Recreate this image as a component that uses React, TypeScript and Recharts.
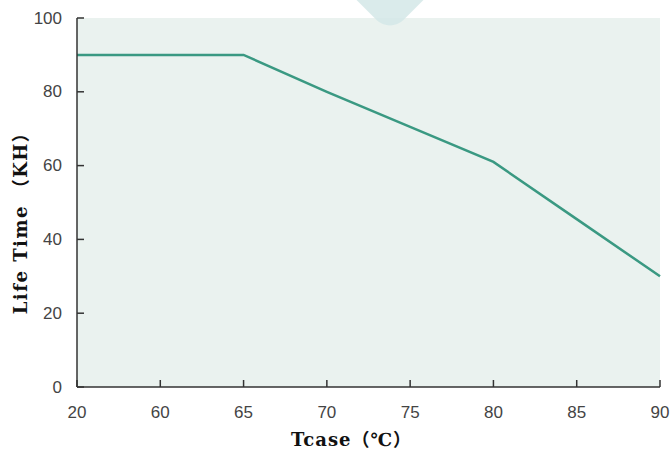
import { CartesianGrid, Line, LineChart, XAxis, YAxis } from "recharts";

// Tcase (°C) categories and life time (KH)
const tcase = ["20", "60", "65", "70", "75", "80", "85", "90"];
const lifeTime = [90, 90, 90, 80, 70.5, 61, 45.5, 30];
const yTicks = [0, 20, 40, 60, 80, 100];

const data = tcase.map((t, i) => ({ t, life: lifeTime[i] }));

const AXIS = "#333333";
const TICK_TEXT = "#444444";
const LINE = "#3a9982";
const TICK_FONT = "'Liberation Sans', Arial, sans-serif";
const LABEL_FONT = "'DejaVu Serif', 'Noto Sans CJK SC', serif";

function YTick({ x, y, payload }: any) {
  return (
    <g>
      <line x1={x} x2={x + 7} y1={y} y2={y} stroke={AXIS} strokeWidth={1.5} />
      <text
        x={x - 15}
        y={y}
        textAnchor="end"
        dominantBaseline="central"
        fontFamily={TICK_FONT}
        fontSize={17}
        fill={TICK_TEXT}
      >
        {payload.value}
      </text>
    </g>
  );
}

function XTick({ x, y, payload }: any) {
  return (
    <g>
      <line x1={x} x2={x} y1={y} y2={y - 7} stroke={AXIS} strokeWidth={1.5} />
      <text
        x={x}
        y={y + 31}
        textAnchor="middle"
        fontFamily={TICK_FONT}
        fontSize={17}
        fill={TICK_TEXT}
      >
        {payload.value}
      </text>
    </g>
  );
}

export default function App() {
  return (
    <div style={{ position: "absolute", left: 0, top: 0, width: 671, height: 453, background: "#fff" }}>
      <LineChart
        width={671}
        height={453}
        data={data}
        margin={{ top: 18, right: 11, left: 0, bottom: 0 }}
        style={{ position: "absolute", left: 0, top: 0 }}
      >
        <CartesianGrid horizontal={false} vertical={false} fill="#e8f1ed" fillOpacity={0.9} />
        <XAxis
          dataKey="t"
          height={66}
          tickSize={0}
          tickMargin={0}
          interval={0}
          axisLine={{ stroke: AXIS, strokeWidth: 1.5 }}
          tick={<XTick />}
          label={{
            content: ({ viewBox }: any) => (
              <text
                x={viewBox.x + viewBox.width / 2 - 17}
                y={viewBox.y + 59}
                textAnchor="middle"
                fontFamily={LABEL_FONT}
                fontWeight="bold"
                fontSize={18}
                letterSpacing={1}
                fill="#111"
              >
                Tcase（℃）
              </text>
            ),
          }}
        />
        <YAxis
          width={77}
          domain={[0, 100]}
          ticks={yTicks}
          tickSize={0}
          tickMargin={0}
          axisLine={{ stroke: AXIS, strokeWidth: 1.5 }}
          tick={<YTick />}
          label={{
            content: ({ viewBox }: any) => {
              const cx = viewBox.x + 20;
              const cy = viewBox.y + viewBox.height / 2 + 16;
              return (
                <text
                  x={cx}
                  y={cy}
                  transform={`rotate(-90 ${cx} ${cy})`}
                  textAnchor="middle"
                  dominantBaseline="central"
                  fontFamily={LABEL_FONT}
                  fontWeight="bold"
                  fontSize={18}
                  letterSpacing={1.5}
                  fill="#111"
                >
                  Life Time （KH）
                </text>
              );
            },
          }}
        />
        <Line
          type="linear"
          dataKey="life"
          stroke={LINE}
          strokeWidth={2.5}
          dot={false}
          activeDot={false}
          isAnimationActive={false}
        />
      </LineChart>
      {/* faint watermark at the top, drawn over the plot */}
      <div
        style={{
          position: "absolute",
          left: 360,
          top: -39,
          width: 60,
          height: 60,
          background: "#d3e8e7",
          transform: "rotate(45deg)",
          borderBottomRightRadius: 19,
          opacity: 0.85,
          pointerEvents: "none",
        }}
      />
    </div>
  );
}
